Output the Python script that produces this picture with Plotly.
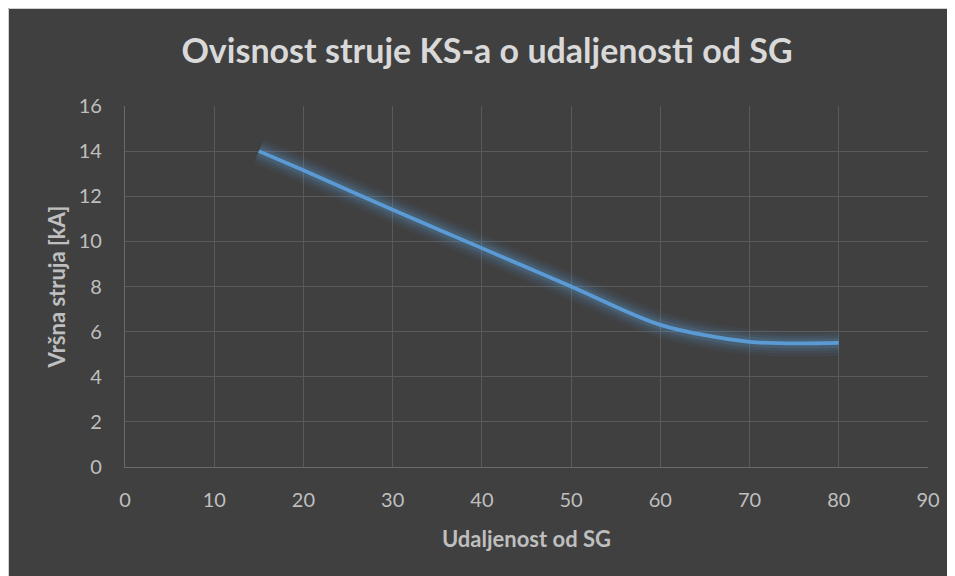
import plotly.graph_objects as go

# Data
distance_km = [15, 20, 30, 40, 50, 60, 70, 80]
peak_current_kA = [14.0, 13.15, 11.4, 9.7, 8.0, 6.3, 5.55, 5.5]

title_text = "Ovisnost struje KS-a o udaljenosti od SG"
x_title = "Udaljenost od SG"
y_title = "Vršna struja [kA]"
x_ticks = [0, 10, 20, 30, 40, 50, 60, 70, 80, 90]
y_ticks = [0, 2, 4, 6, 8, 10, 12, 14, 16]

W, H = 955, 576
L, R, T, B = 117, 35, 98, 117
PW, PH = W - L - R, H - T - B

def px_x(p):
    return (p - L) / PW

def px_y(q):
    return (H - B - q) / PH

BG = "#404040"
LINE = "#5B9BD5"
FONT = "Lato"

fig = go.Figure()

# glow layers
for w, op in [(26, 0.05), (20, 0.07), (15, 0.10), (10, 0.15)]:
    fig.add_trace(go.Scatter(
        x=distance_km, y=peak_current_kA, mode="lines",
        line=dict(color=LINE, width=w, shape="spline", smoothing=0.85),
        opacity=op, hoverinfo="skip", showlegend=False))

fig.add_trace(go.Scatter(
    x=distance_km, y=peak_current_kA, mode="lines",
    line=dict(color=LINE, width=3.75, shape="spline", smoothing=0.85),
    showlegend=False))

shapes = [
    dict(type="line", xref="paper", yref="paper", x0=px_x(0.5), x1=px_x(W), y0=px_y(0.5), y1=px_y(0.5),
         line=dict(color="#D0D0D0", width=1), layer="above"),
    dict(type="line", xref="paper", yref="paper", x0=px_x(0.5), x1=px_x(0.5), y0=px_y(0.5), y1=px_y(H),
         line=dict(color="#D0D0D0", width=1), layer="above"),
]

fig.update_layout(
    width=W, height=H,
    margin=dict(l=L, r=R, t=T, b=B, autoexpand=False),
    paper_bgcolor=BG, plot_bgcolor=BG,
    font=dict(family=FONT, color="#BFBFBF"),
    title=dict(text="<b>" + title_text + "</b>", x=479 / W, xanchor="center",
               y=1 - 43 / H, yanchor="middle",
               font=dict(family=FONT, size=34, color="#D9D9D9")),
    shapes=shapes,
    showlegend=False,
)

fig.update_xaxes(
    range=[0, 90], tickvals=x_ticks, ticktext=[str(v) for v in x_ticks],
    showgrid=True, gridcolor="#5A5A5A", gridwidth=1.3,
    showline=True, linecolor="#6A6A6A", linewidth=1.3, mirror=False,
    zeroline=False, ticks="", ticklabelstandoff=15,
    tickfont=dict(family=FONT, size=20, color="#BFBFBF"),
    title=dict(text="<b>" + x_title + "</b>", standoff=21,
               font=dict(family=FONT, size=22, color="#BFBFBF")),
)
fig.update_yaxes(
    range=[0, 16], tickvals=y_ticks, ticktext=[str(v) for v in y_ticks],
    showgrid=True, gridcolor="#5A5A5A", gridwidth=1.3,
    showline=True, linecolor="#6A6A6A", linewidth=1.3,
    zeroline=False, ticks="", ticklabelstandoff=18,
    tickfont=dict(family=FONT, size=20, color="#BFBFBF"),
    title=dict(text="<b>" + y_title + "</b>", standoff=6,
               font=dict(family=FONT, size=22, color="#BFBFBF")),
)

fig.write_html("out.html")
